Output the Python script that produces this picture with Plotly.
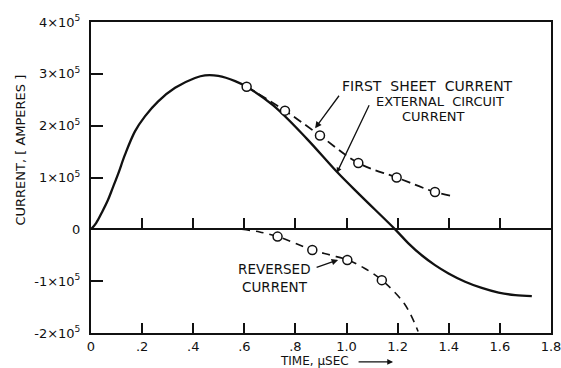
import plotly.graph_objects as go

# ---- data (time in microseconds, current in amperes) ----
ext_t = [0, 0.02, 0.042, 0.065, 0.085, 0.107, 0.133, 0.172, 0.211, 0.263, 0.329, 0.407, 0.446, 0.498,
         0.564, 0.609, 0.713, 0.844, 0.962, 1.053, 1.19, 1.242, 1.294, 1.346, 1.399, 1.464,
         1.529, 1.595, 1.66, 1.725]
ext_i = [0, 0.12e5, 0.32e5, 0.55e5, 0.80e5, 1.08e5, 1.44e5, 1.89e5, 2.18e5, 2.47e5, 2.73e5, 2.92e5,
         2.97e5, 2.96e5, 2.86e5, 2.75e5, 2.39e5, 1.75e5, 1.11e5, 0.66e5, 0, -0.27e5, -0.50e5,
         -0.69e5, -0.85e5, -1.01e5, -1.13e5, -1.22e5, -1.27e5, -1.29e5]

sheet_line_t = [0.609, 0.759, 0.896, 1.046, 1.196, 1.346, 1.417]
sheet_line_i = [2.75e5, 2.29e5, 1.81e5, 1.28e5, 1.00e5, 0.72e5, 0.64e5]
sheet_pts_t = [0.609, 0.759, 0.896, 1.046, 1.196, 1.346]
sheet_pts_i = [2.75e5, 2.29e5, 1.81e5, 1.28e5, 1.00e5, 0.72e5]

rev_line_t = [0.59, 0.66, 0.73, 0.80, 0.866, 0.94, 1.003, 1.07, 1.138, 1.227, 1.28]
rev_line_i = [0, -0.05e5, -0.14e5, -0.27e5, -0.40e5, -0.50e5, -0.59e5, -0.75e5, -0.98e5, -1.44e5, -1.97e5]
rev_pts_t = [0.73, 0.866, 1.003, 1.138]
rev_pts_i = [-0.14e5, -0.40e5, -0.59e5, -0.98e5]

x_tickvals = [0, 0.2, 0.4, 0.6, 0.8, 1.0, 1.2, 1.4, 1.6, 1.8]
x_ticktext = ["0", ".2", ".4", ".6", ".8", "1.0", "1.2", "1.4", "1.6", "1.8"]
y_tickvals = [-2e5, -1e5, 0, 1e5, 2e5, 3e5, 4e5]
y_ticktext = ["-2×10<sup>5</sup>", "-1×10<sup>5</sup>", "0", "1×10<sup>5</sup>",
              "2×10<sup>5</sup>", "3×10<sup>5</sup>", "4×10<sup>5</sup>"]
zero_ticks = [0.2, 0.4, 0.6, 0.8, 1.0, 1.2, 1.4, 1.6]

FONT = "DejaVu Sans"
BLACK = "#111111"
NB = "\u00a0"

fig = go.Figure()
fig.add_trace(go.Scatter(x=ext_t, y=ext_i, mode="lines",
                         line=dict(color=BLACK, width=2.3, shape="spline", smoothing=1.0),
                         showlegend=False, hoverinfo="skip"))
fig.add_trace(go.Scatter(x=sheet_line_t, y=sheet_line_i, mode="lines",
                         line=dict(color=BLACK, width=1.8, dash="9px,5px", shape="spline"),
                         showlegend=False, hoverinfo="skip"))
fig.add_trace(go.Scatter(x=rev_line_t, y=rev_line_i, mode="lines",
                         line=dict(color=BLACK, width=1.6, dash="8px,6px", shape="spline"),
                         showlegend=False, hoverinfo="skip"))
for tt, ii in [(sheet_pts_t, sheet_pts_i), (rev_pts_t, rev_pts_i)]:
    fig.add_trace(go.Scatter(x=tt, y=ii, mode="markers",
                             marker=dict(symbol="circle", size=9, color="white",
                                         line=dict(color=BLACK, width=1.5)),
                             showlegend=False, hoverinfo="skip"))
# carrier trace for the zero-line axis
fig.add_trace(go.Scatter(x=[None], y=[None], xaxis="x2", yaxis="y", showlegend=False, hoverinfo="skip"))

fig.update_layout(
    width=561, height=368,
    margin=dict(l=91, r=10, t=22, b=35, autoexpand=False),
    paper_bgcolor="white", plot_bgcolor="white",
    font=dict(family=FONT, size=13, color=BLACK),
    xaxis=dict(range=[0, 1.8], tickvals=x_tickvals, ticktext=x_ticktext,
               ticks="inside", ticklen=10, tickwidth=1.5, tickcolor=BLACK,
               showline=True, linewidth=2, linecolor=BLACK, mirror=True, automargin=False,
               showgrid=False, zeroline=False, ticklabelstandoff=0, ticklabeloverflow="allow",
               tickfont=dict(family=FONT, size=13, color=BLACK)),
    xaxis2=dict(range=[0, 1.8], overlaying="x", anchor="free", position=1/3, side="top",
                tickvals=zero_ticks, ticks="outside", ticklen=10, tickwidth=1.5, tickcolor=BLACK,
                showticklabels=False, showline=True, linewidth=2, linecolor=BLACK,
                showgrid=False, zeroline=False, automargin=False),
    yaxis=dict(range=[-2e5, 4e5], tickvals=y_tickvals, ticktext=y_ticktext,
               ticks="inside", ticklen=12, tickwidth=1.5, tickcolor=BLACK,
               showline=True, linewidth=2, linecolor=BLACK, mirror=True, automargin=False,
               showgrid=False, zeroline=False, ticklabelstandoff=6, ticklabeloverflow="allow",
               tickfont=dict(family=FONT, size=13, color=BLACK)),
)

ann = []
# label texts
ann.append(dict(x=0.975, y=2.76e5, text=f"FIRST{NB}{NB}SHEET{NB}{NB}CURRENT", showarrow=False,
                xanchor="left", yanchor="middle", font=dict(size=14)))
ann.append(dict(x=1.108, y=2.47e5, text=f"EXTERNAL{NB}{NB}CIRCUIT", showarrow=False,
                xanchor="left", yanchor="middle", font=dict(size=13)))
ann.append(dict(x=1.339, y=2.18e5, text="CURRENT", showarrow=False, xanchor="center", yanchor="middle",
                font=dict(size=13)))
ann.append(dict(x=0.717, y=-0.76e5, text="REVERSED", showarrow=False, xanchor="center", yanchor="middle",
                font=dict(size=13.5)))
ann.append(dict(x=0.72, y=-1.11e5, text="CURRENT", showarrow=False, xanchor="center", yanchor="middle",
                font=dict(size=13.5)))
# leader arrows
ann.append(dict(x=0.877, y=1.95e5, text="", showarrow=True, ax=25, ay=-34,
                arrowhead=2, arrowsize=1, arrowwidth=1.3, arrowcolor=BLACK))
ann.append(dict(x=0.962, y=1.09e5, text="", showarrow=True, ax=33, ay=-69,
                arrowhead=2, arrowsize=0.8, arrowwidth=1.3, arrowcolor=BLACK))
ann.append(dict(x=0.967, y=-0.59e5, text="", showarrow=True, ax=-23, ay=8,
                arrowhead=2, arrowsize=1, arrowwidth=1.3, arrowcolor=BLACK))
# axis titles
ann.append(dict(x=0.732, y=-0.089, xref="x", yref="paper", text=f"TIME,{NB}μSEC", showarrow=False,
                xanchor="left", yanchor="middle", font=dict(size=12)))
ann.append(dict(x=1.182, y=-0.093, xref="x", yref="paper", text="", showarrow=True, ax=-36, ay=0,
                arrowhead=2, arrowsize=0.9, arrowwidth=1.3, arrowcolor=BLACK))
ann.append(dict(x=-0.154, y=0.587, xref="paper", yref="paper", text=f"CURRENT,{NB}[{NB}AMPERES{NB}]",
                textangle=-90, showarrow=False, xanchor="center", yanchor="middle"))
fig.update_layout(annotations=ann)

fig.write_html("out.html", config={"displayModeBar": False},
               post_script="document.body.style.margin='0px';")
